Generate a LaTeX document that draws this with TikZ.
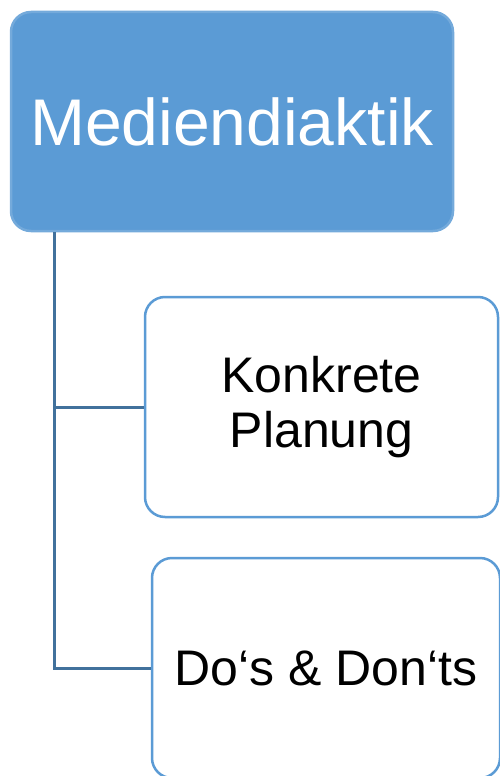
\documentclass[tikz,border=0pt]{standalone}
\usepackage{fontspec}
\setmainfont{Liberation Sans}
\usetikzlibrary{positioning}

\definecolor{topblue}{HTML}{5B9BD5}
\definecolor{linkblue}{HTML}{41719C}

\begin{document}
\begin{tikzpicture}[
    x=1pt, y=-1pt,
    base/.style = {rectangle, rounded corners=20pt, line width=2.5pt,
      text centered, align=center},
    topic/.style = {base, draw=topblue!85!white, fill=topblue, text=white,
      font=\fontsize{66}{72}\selectfont},
    item/.style = {base, draw=topblue, fill=white, text=black,
      font=\fontsize{50}{55}\selectfont},
    link/.style = {draw=linkblue, line width=3pt}
]
  \useasboundingbox (0,0) rectangle (500,776);
  \clip (0,0) rectangle (500,776);

  \node (med)  [topic, minimum width=442pt, minimum height=219pt] at (232,121.5) {Mediendiaktik};
  \node (plan) [item, minimum width=353pt, minimum height=220pt] at (321.5,407) {Konkrete\\Planung};
  \node (dos)  [item, minimum width=348pt, minimum height=220pt] at (326,668) {Do‘s \& Don‘ts};

  \draw[link] (med.south -| 54,0) |- (plan.west);
  \draw[link] (med.south -| 54,0) |- (dos.west);

\end{tikzpicture}
\end{document}
